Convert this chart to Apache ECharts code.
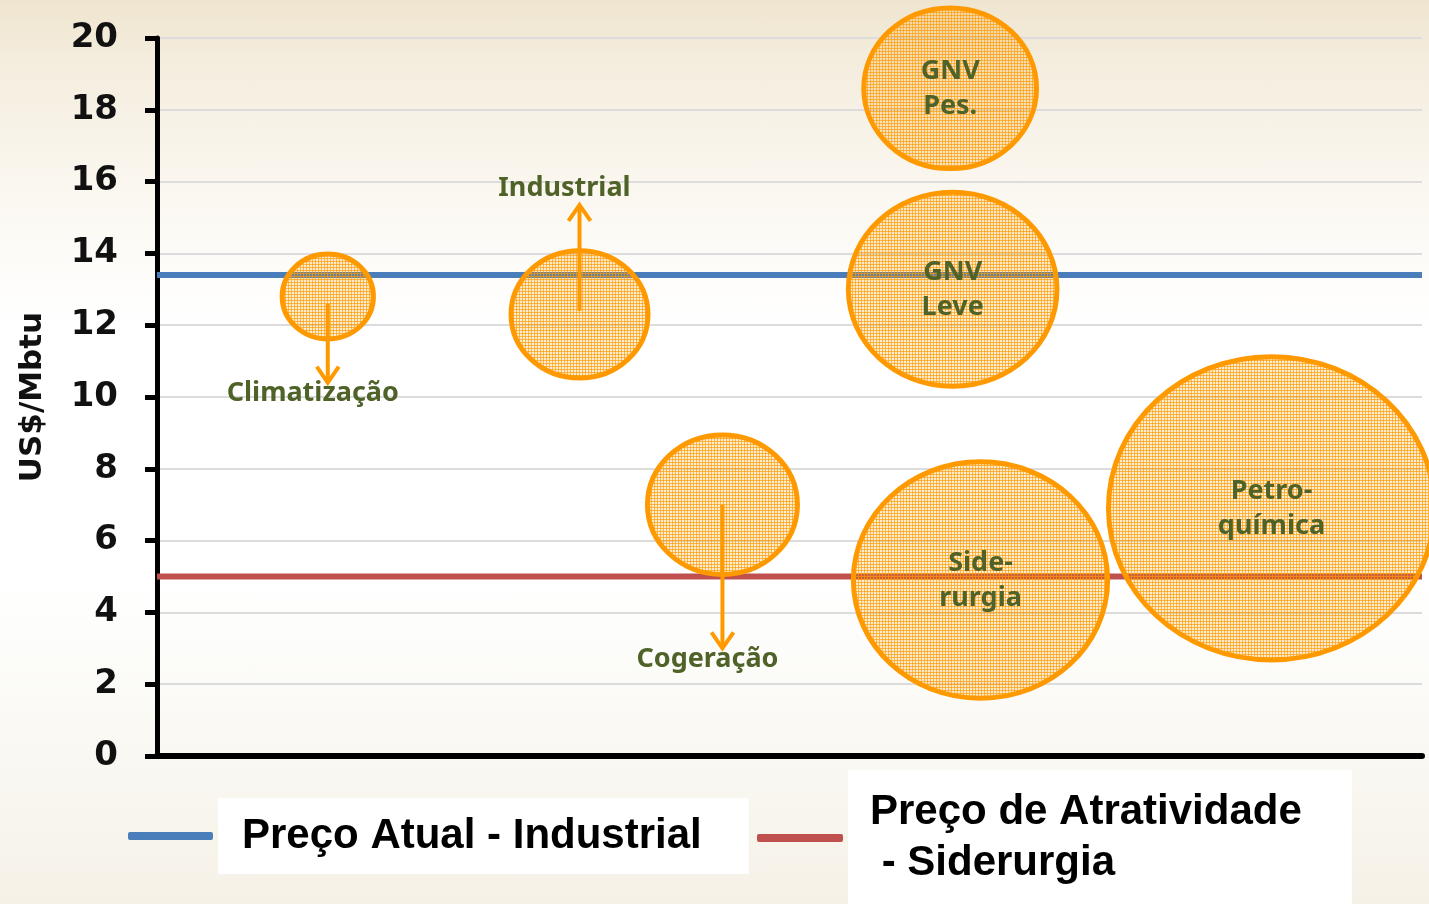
<!DOCTYPE html>
<html>
<head>
<meta charset="utf-8">
<script src="https://cdn.jsdelivr.net/npm/echarts@6/dist/echarts.min.js"></script>
<style>
  html, body { margin: 0; padding: 0; }
  body {
    width: 1429px; height: 904px; overflow: hidden;
    background: linear-gradient(to bottom, #efe5cf 0%, #f5eee0 8%, #fbf8f1 22%, #ffffff 36%, #ffffff 64%, #f9f8f2 84%, #f6f1e7 100%);
  }
  #chart { width: 1429px; height: 904px; }
</style>
</head>
<body>
<div id="chart"></div>
<script>
// bubbles: position along the chart, price level (US$/Mbtu), relative volume
var bubbleNames = ["Climatização", "Industrial", "Cogeração", "GNV\nPes.", "GNV\nLeve", "Side-\nrurgia", "Petro-\nquímica"];
var bubbleX = [13.5, 33.4, 44.7, 62.7, 62.9, 65.1, 88.1];
var bubbleY = [12.8, 12.3, 7.0, 18.6, 13.0, 4.9, 6.9];
var bubbleVolume = [28, 42, 46, 53, 64, 78, 100];

// arrows for the small segments (index into bubbles, from / to price)
var arrowBubble = [0, 1, 2];
var arrowFrom = [12.6, 12.4, 7.0];
var arrowTo = [10.4, 15.35, 3.0];

// reference prices
var precoAtual = 13.4;
var precoAtratividade = 5.0;

var yTicks = [0, 20, 2];

var orange = "#ff9900";
var green = "#4f6228";

function dotPattern() {
  var c = document.createElement("canvas");
  c.width = 3; c.height = 3;
  var ctx = c.getContext("2d");
  ctx.fillStyle = "rgba(255,153,0,0.18)";
  ctx.fillRect(0, 0, 3, 3);
  ctx.fillStyle = "rgba(255,153,0,0.65)";
  ctx.fillRect(0, 0, 3, 1);
  ctx.fillRect(0, 0, 1, 3);
  return c;
}
var pattern = { image: dotPattern(), repeat: "repeat" };

var chart = echarts.init(document.getElementById("chart"));

var bubbleData = bubbleX.map(function (x, i) {
  return { name: bubbleNames[i], value: [x, bubbleY[i], bubbleVolume[i], arrowBubble.indexOf(i) >= 0 ? 1 : 0] };
});

var arrowData = arrowBubble.map(function (b, i) {
  return { name: bubbleNames[b], value: [bubbleX[b], arrowFrom[i], arrowTo[i]] };
});

var option = {
  backgroundColor: "transparent",
  animation: false,
  grid: { left: 157, right: 7, top: 38, bottom: 148 },
  xAxis: {
    type: "value", min: 0, max: 100,
    axisLine: { show: true, lineStyle: { color: "#000", width: 6 } },
    axisTick: { show: false },
    axisLabel: { show: false },
    splitLine: { show: false }
  },
  yAxis: {
    type: "value", min: yTicks[0], max: yTicks[1], interval: yTicks[2],
    name: "US$/Mbtu",
    nameLocation: "middle",
    nameGap: 109,
    nameTextStyle: { fontFamily: "DejaVu Sans", fontWeight: "bold", fontSize: 31, color: "#111" },
    axisLine: { show: true, lineStyle: { color: "#000", width: 5 } },
    axisTick: { show: true, length: 12, lineStyle: { color: "#000", width: 5 } },
    axisLabel: { margin: 39, fontFamily: "DejaVu Sans", fontWeight: "bold", fontSize: 34, color: "#111", padding: [4, 0, 0, 0] },
    splitLine: { show: true, lineStyle: { color: "#dcdcdc", width: 2 } }
  },
  legend: [
    {
      left: 128, top: 798, padding: 0,
      itemWidth: 85, itemHeight: 8, icon: "roundRect",
      data: ["Preço Atual - Industrial"],
      textStyle: {
        fontFamily: "Liberation Sans", fontWeight: "bold", fontSize: 42, color: "#000",
        backgroundColor: "#fff", padding: [14, 47, 14, 24], lineHeight: 48
      }
    },
    {
      left: 757, top: 770, padding: 0,
      itemWidth: 86, itemHeight: 8, icon: "roundRect",
      data: ["Preço de Atratividade - Siderurgia"],
      formatter: function () { return "Preço de Atratividade\n - Siderurgia"; },
      textStyle: {
        fontFamily: "Liberation Sans", fontWeight: "bold", fontSize: 42, color: "#000",
        backgroundColor: "#fff", padding: [12, 50, 22, 22], lineHeight: 51
      }
    }
  ],
  series: [
    {
      name: "Preço Atual - Industrial",
      type: "line", symbol: "none", z: 1,
      color: "#4a7ebb",
      lineStyle: { width: 6, color: "#4a7ebb" },
      data: [[0, precoAtual], [100, precoAtual]]
    },
    {
      name: "Preço de Atratividade - Siderurgia",
      type: "line", symbol: "none", z: 1,
      color: "#c0504d",
      lineStyle: { width: 6, color: "#c0504d" },
      data: [[0, precoAtratividade], [100, precoAtratividade]]
    },
    {
      // bubbles drawn as ellipses so the dotted fill stays at pixel scale
      type: "custom", z: 3, clip: false,
      renderItem: function (params, api) {
        var c = api.coord([api.value(0), api.value(1)]);
        var rx = api.value(2) * 1.63;
        var ry = rx * 0.93;
        var children = [{
          type: "ellipse",
          shape: { cx: c[0], cy: c[1], rx: rx, ry: ry },
          style: { fill: pattern, stroke: orange, lineWidth: 5 }
        }];
        if (!api.value(3)) {
          children.push({
            type: "text", x: c[0], y: c[1] + 1,
            style: {
              text: bubbleData[params.dataIndex].name,
              font: "bold 27px 'Noto Sans'", lineHeight: 35, fill: green,
              align: "center", verticalAlign: "middle"
            }
          });
        }
        return { type: "group", children: children };
      },
      data: bubbleData
    },
    {
      type: "custom", z: 4,
      renderItem: function (params, api) {
        var p0 = api.coord([api.value(0), api.value(1)]);
        var p1 = api.coord([api.value(0), api.value(2)]);
        var dir = p1[1] > p0[1] ? 1 : -1;
        var st = { stroke: orange, lineWidth: 4, fill: null };
        return {
          type: "group",
          children: [
            { type: "line", shape: { x1: p0[0], y1: p0[1], x2: p1[0], y2: p1[1] }, style: st },
            { type: "polyline", shape: { points: [[p1[0] - 11, p1[1] - 16 * dir], [p1[0], p1[1]], [p1[0] + 11, p1[1] - 16 * dir]] }, style: st },
            {
              type: "text", x: p1[0] - 15, y: p1[1] + (dir > 0 ? 11 : -17),
              style: {
                text: arrowData[params.dataIndex].name,
                font: "bold 27px 'Noto Sans'", fill: green,
                align: "center", verticalAlign: "middle"
              }
            }
          ]
        };
      },
      data: arrowData
    }
  ]
};

chart.setOption(option);
</script>
</body>
</html>
